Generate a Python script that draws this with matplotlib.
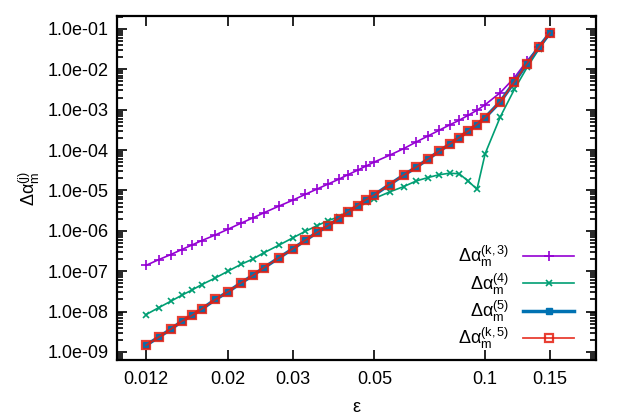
import matplotlib
matplotlib.use("Agg")
import matplotlib.pyplot as plt
from matplotlib.ticker import FixedLocator, FuncFormatter, LogLocator, NullLocator

plt.rcParams['font.family'] = ['Liberation Sans', 'DejaVu Sans']
plt.rcParams['mathtext.fontset'] = 'custom'
plt.rcParams['mathtext.rm'] = 'Liberation Sans'
plt.rcParams['mathtext.it'] = 'Liberation Sans'

# epsilon values
eps = [0.012, 0.013, 0.014, 0.015, 0.016, 0.017, 0.0185, 0.020, 0.0217, 0.0234,
       0.025, 0.0275, 0.030, 0.0325, 0.035, 0.0375, 0.040, 0.0425, 0.045, 0.0475,
       0.050, 0.055, 0.060, 0.065, 0.070, 0.075, 0.080, 0.085, 0.090, 0.095,
       0.100, 0.110, 0.120, 0.130, 0.140, 0.150]

# Delta alpha_m^(k,3)
d_k3 = [1.40e-7, 1.94e-7, 2.58e-7, 3.44e-7, 4.47e-7, 5.74e-7, 7.9e-7, 1.09e-6, 1.54e-6, 2.09e-6,
        2.77e-6, 4.07e-6, 5.72e-6, 8.05e-6, 1.09e-5, 1.45e-5, 1.89e-5, 2.48e-5, 3.16e-5, 4.04e-5,
        5.07e-5, 7.45e-5, 1.08e-4, 1.59e-4, 2.24e-4, 3.10e-4, 4.17e-4, 5.48e-4, 7.30e-4, 9.70e-4,
        1.33e-3, 2.66e-3, 6.18e-3, 1.63e-2, 3.58e-2, 7.96e-2]

# Delta alpha_m^(4)
d_4 = [8.44e-9, 1.26e-8, 1.80e-8, 2.54e-8, 3.43e-8, 4.67e-8, 6.8e-8, 9.97e-8, 1.47e-7, 2.01e-7,
       2.83e-7, 4.39e-7, 6.67e-7, 9.76e-7, 1.35e-6, 1.80e-6, 2.21e-6, 3.06e-6, 4.11e-6, 5.31e-6,
       6.31e-6, 9.19e-6, 1.24e-5, 1.72e-5, 2.09e-5, 2.45e-5, 2.67e-5, 2.59e-5, 1.69e-5, 1.07e-5,
       8.2e-5, 6.76e-4, 3.17e-3, 1.12e-2, 3.18e-2, 7.82e-2]

# Delta alpha_m^(5)
d_5 = [1.47e-9, 2.35e-9, 3.65e-9, 5.75e-9, 8.1e-9, 1.16e-8, 1.99e-8, 3.06e-8, 5.1e-8, 7.9e-8,
       1.2e-7, 2.13e-7, 3.56e-7, 5.85e-7, 9.2e-7, 1.35e-6, 2.01e-6, 2.94e-6, 4.23e-6, 5.95e-6,
       7.74e-6, 1.40e-5, 2.38e-5, 3.76e-5, 6.03e-5, 9.35e-5, 1.39e-4, 2.04e-4, 2.98e-4, 4.29e-4,
       6.4e-4, 1.59e-3, 4.86e-3, 1.39e-2, 3.58e-2, 7.96e-2]

# Delta alpha_m^(k,5)
d_k5 = [1.47e-9, 2.35e-9, 3.65e-9, 5.75e-9, 8.1e-9, 1.16e-8, 1.99e-8, 3.06e-8, 5.1e-8, 7.9e-8,
        1.2e-7, 2.13e-7, 3.56e-7, 5.85e-7, 9.2e-7, 1.35e-6, 2.01e-6, 2.94e-6, 4.23e-6, 5.95e-6,
        7.74e-6, 1.40e-5, 2.38e-5, 3.76e-5, 6.03e-5, 9.35e-5, 1.39e-4, 2.04e-4, 2.98e-4, 4.29e-4,
        6.4e-4, 1.59e-3, 4.86e-3, 1.39e-2, 3.58e-2, 7.96e-2]

xticks = [0.012, 0.02, 0.03, 0.05, 0.1, 0.15]
xticklabels = ['0.012', '0.02', '0.03', '0.05', '0.1', '0.15']

fig = plt.figure(figsize=(6.27, 4.16), dpi=100)
ax = fig.add_axes([0.1866, 0.1346, 0.764, 0.8269])

ax.plot(eps, d_k3, color='#9400d3', lw=1.2, marker='+', ms=7, mew=1.2,
        label=r'Δα$_{\rm m}^{\rm (k,3)}$')
ax.plot(eps, d_4, color='#009e73', lw=1.2, marker='x', ms=5, mew=1.2,
        label=r'Δα$_{\rm m}^{\rm (4)}$')
ax.plot(eps, d_5, color='#0072b2', lw=2.5, marker='s', ms=4,
        label=r'Δα$_{\rm m}^{\rm (5)}$')
ax.plot(eps, d_k5, color='#e51e10', lw=1.3, marker='s', ms=5.5, mew=1.6, mfc='none',
        alpha=0.85, label=r'Δα$_{\rm m}^{\rm (k,5)}$')

ax.set_xscale('log')
ax.set_yscale('log')
ax.set_xlim(0.01, 0.2)
ax.set_ylim(10**-9.2, 10**-0.68)

ax.xaxis.set_major_locator(FixedLocator(xticks))
ax.set_xticklabels(xticklabels)
ax.xaxis.set_minor_locator(NullLocator())
ax.yaxis.set_major_locator(LogLocator(base=10, numticks=20))
ax.yaxis.set_minor_locator(LogLocator(base=10, subs=range(2, 10), numticks=20))
ax.yaxis.set_major_formatter(FuncFormatter(lambda v, p: f'{v:.1e}'))

ax.tick_params(which='both', direction='in', top=True, right=True, labelsize=13, width=1.2)
ax.tick_params(which='major', length=7, pad=6)
ax.tick_params(axis='x', which='major', pad=8)
ax.tick_params(which='minor', length=4)
for s in ax.spines.values():
    s.set_linewidth(1.6)

ax.set_xlabel('ε', fontsize=13, labelpad=8)
ax.set_ylabel(r'Δα$_{\rm m}^{\rm (j)}$', fontsize=13, labelpad=4)

leg = ax.legend(loc='lower right', bbox_to_anchor=(0.954, 0.025), frameon=False,
                markerfirst=False, fontsize=13, handlelength=2.8, handletextpad=0.8,
                labelspacing=0.12, borderpad=0, borderaxespad=0)

fig.savefig('out.png', dpi=100)
